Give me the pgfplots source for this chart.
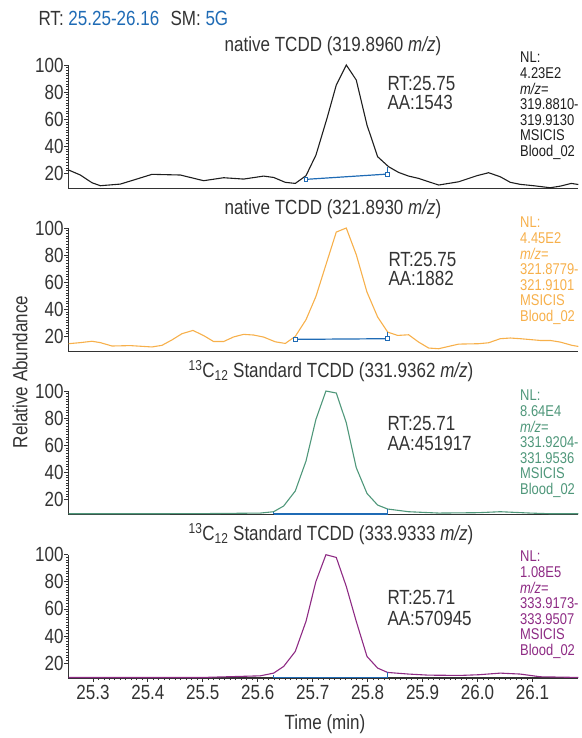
\documentclass[border=0pt]{standalone}
\usepackage{fontspec}
\setmainfont{Liberation Sans}[FakeStretch=0.83]
\usepackage{pgfplots}
\pgfplotsset{compat=1.18}
\definecolor{cBlack}{HTML}{1E1E1E}
\definecolor{cOrange}{HTML}{F7B04B}
\definecolor{cGreen}{HTML}{4F977A}
\definecolor{cPurple}{HTML}{8E2B84}
\definecolor{cBlue}{HTML}{1F6BB5}
\definecolor{cAxis}{HTML}{333333}
\newcommand\fA{\fontsize{20.5}{20.5}\selectfont}
\newcommand\fS{\fontsize{15.6}{15.6}\selectfont}
\pgfplotsset{panel/.style={
  scale only axis, width=510pt, height=123.3pt,
  xmin=25.2552, xmax=26.1834, ymin=9, ymax=100,
  axis x line*=bottom, axis y line*=left,
  axis line style={-, line width=1.2pt, cAxis},
  ytick={20,40,60,80,100}, minor y tick num=9,
  xtick=\empty,
  tick align=outside, major tick length=4pt, minor tick length=2.2pt,
  tick style={line width=0.8pt, cAxis},
  yticklabel style={font=\fA, text=cAxis, inner sep=0.5pt},
  /pgf/number format/assume math mode=true,
  clip=false,
  anchor=south west,
}}
\begin{document}
\begin{tikzpicture}[x=1pt,y=1pt]
\path[use as bounding box] (0pt,0pt) rectangle (581pt,738pt);

% Panel 1
\begin{axis}[panel, at={(68.3pt,549.7pt)}]
\addplot[cBlack, line width=1.1pt] coordinates {
(25.2558,22.5) (25.2771,18.8) (25.2983,13.1) (25.3135,10.9) (25.3499,12.1)
(25.3741,15.1) (25.4075,19.3) (25.4591,18.8) (25.5015,14.6) (25.5379,16.8)
(25.5743,15.8) (25.6107,18.0) (25.6289,17.0) (25.6501,13.4) (25.6683,12.6)
(25.6878,18.3) (25.7059,33.5) (25.7260,60.6) (25.7429,85.2) (25.7611,100.0)
(25.7793,88.9) (25.7988,55.7) (25.8182,32.3) (25.8382,24.9) (25.8564,20.7)
(25.8746,18.0) (25.8928,16.3) (25.9292,11.4) (25.9656,13.8) (25.9989,18.3)
(26.0202,20.5) (26.0414,17.5) (26.0596,13.4) (26.0778,11.9) (26.1021,10.9)
(26.1324,9.4) (26.1506,10.6) (26.1706,12.6) (26.1834,11.8)};
\addplot[cBlue, line width=1.1pt] coordinates {(25.8364,19.5) (25.8364,24.9)};
\addplot[cBlue, line width=1.2pt, mark=square*, mark size=1.9pt, mark options={draw=cBlue, fill=white, line width=0.9pt}] coordinates {(25.6878,15.6) (25.8364,19.5)};
\end{axis}

% Panel 2
\begin{axis}[panel, at={(68.3pt,386.7pt)}]
\addplot[cOrange, line width=1.1pt] coordinates {
(25.2558,14.6) (25.2771,15.4) (25.2983,16.4) (25.3135,15.4) (25.3347,12.9)
(25.3681,13.2) (25.4075,12.2) (25.4257,13.4) (25.4439,17.4) (25.4621,22.0)
(25.4821,24.4) (25.5015,20.6) (25.5197,16.2) (25.5379,16.2) (25.5561,19.6)
(25.5743,21.5) (25.5925,21.0) (25.6107,19.5) (25.6319,16.0) (25.6501,14.8)
(25.6683,20.0) (25.6878,32.3) (25.7059,49.5) (25.7241,72.9) (25.7429,97.0)
(25.7611,100.0) (25.7793,80.3) (25.7988,52.7) (25.8182,34.3) (25.8364,23.2)
(25.8546,20.7) (25.8746,21.2) (25.8928,15.8) (25.9110,11.4) (25.9292,10.9)
(25.9474,12.6) (25.9656,14.3) (26.0020,14.6) (26.0202,15.3) (26.0414,18.3)
(26.0596,18.8) (26.0778,18.3) (26.1142,17.0) (26.1324,17.0) (26.1506,15.8)
(26.1718,13.4) (26.1834,12.6)};
\addplot[cBlue, line width=1.1pt] coordinates {(25.8364,18.3) (25.8364,23.0)};
\addplot[cBlue, line width=1.2pt, mark=square*, mark size=1.9pt, mark options={draw=cBlue, fill=white, line width=0.9pt}] coordinates {(25.6683,17.8) (25.8364,18.3)};
\end{axis}

% Panel 3
\begin{axis}[panel, at={(68.3pt,223.7pt)}]
\addplot[cGreen, line width=1.1pt] coordinates {
(25.2558,9.4) (25.4000,9.4) (25.5000,9.5) (25.6046,9.9) (25.6289,10.9)
(25.6471,15.1) (25.6683,26.2) (25.6878,48.3) (25.7059,79.1) (25.7241,100.0)
(25.7429,98.5) (25.7611,76.6) (25.7793,43.4) (25.7988,24.4) (25.8182,15.8)
(25.8364,12.9) (25.8746,10.9) (25.9292,9.9) (26.0020,10.2) (26.0414,10.9)
(26.0960,9.9) (26.1324,9.4) (26.1834,9.4)};
\addplot[cBlue, line width=1.8pt] coordinates {(25.6289,9.3) (25.8364,9.3)};
\addplot[cBlue, line width=1.1pt] coordinates {(25.8364,9.3) (25.8364,12.6)};
\addplot[cBlue, line width=1.1pt] coordinates {(25.6289,9.3) (25.6289,10.8)};
\end{axis}

% Panel 4
\begin{axis}[panel, at={(68.3pt,60pt)},
  xtick={25.3,25.4,25.5,25.6,25.7,25.8,25.9,26.0,26.1}, minor x tick num=9,
  xticklabel style={font=\fA, text=cAxis, /pgf/number format/.cd, fixed, fixed zerofill, precision=1}]
\addplot[cPurple, line width=1.1pt] coordinates {
(25.2558,9.4) (25.4000,9.4) (25.5000,9.4) (25.6046,10.6) (25.6289,12.6)
(25.6471,17.5) (25.6683,28.6) (25.6878,50.8) (25.7059,80.3) (25.7241,100.0)
(25.7429,98.0) (25.7611,76.6) (25.7793,50.8) (25.7988,24.9) (25.8182,16.3)
(25.8364,13.1) (25.8746,11.9) (25.9110,11.1) (25.9686,10.9) (26.0020,11.4)
(26.0414,12.6) (26.0778,11.9) (26.1142,9.9) (26.1834,9.4)};
\addplot[cBlue, line width=1.8pt] coordinates {(25.6289,9.3) (25.8364,9.3)};
\addplot[cBlue, line width=1.1pt] coordinates {(25.8364,9.3) (25.8364,13.5)};
\addplot[cBlue, line width=1.1pt] coordinates {(25.6289,9.3) (25.6289,11.2)};
\end{axis}

% Header
\node[anchor=base west, inner sep=0, font=\fA, text=cAxis] at (38.3pt,712.3pt)
  {RT: \textcolor{cBlue}{25.25-26.16}\hspace{0.55em}SM: \textcolor{cBlue}{5G}};

% Titles
\node[anchor=base, inner sep=0, font=\fA, text=cAxis] at (333pt,686.3pt) {native TCDD (319.8960 \textit{m/z})};
\node[anchor=base, inner sep=0, font=\fA, text=cAxis] at (333pt,523.3pt) {native TCDD (321.8930 \textit{m/z})};
\node[anchor=base, inner sep=0, font=\fA, text=cAxis] at (331pt,360.3pt) {\textsuperscript{13}C\textsubscript{12} Standard TCDD (331.9362 \textit{m/z})};
\node[anchor=base, inner sep=0, font=\fA, text=cAxis] at (331pt,197.3pt) {\textsuperscript{13}C\textsubscript{12} Standard TCDD (333.9333 \textit{m/z})};

% RT / AA
\node[anchor=north west, inner sep=0, font={\fontsize{20.5}{19.2}\selectfont}, text=cAxis, align=left] at (387.3pt,662pt) {RT:25.75\\AA:1543};
\node[anchor=north west, inner sep=0, font={\fontsize{20.5}{19.2}\selectfont}, text=cAxis, align=left] at (388.3pt,486pt) {RT:25.75\\AA:1882};
\node[anchor=north west, inner sep=0, font={\fontsize{20.5}{20}\selectfont}, text=cAxis, align=left] at (387.3pt,322pt) {RT:25.71\\AA:451917};
\node[anchor=north west, inner sep=0, font={\fontsize{20.5}{21}\selectfont}, text=cAxis, align=left] at (387.3pt,147.7pt) {RT:25.71\\AA:570945};

% Side texts
\node[anchor=north west, inner sep=0, font=\fS, text=cBlack, align=left] at (520pt,686pt)
  {NL:\\4.23E2\\\textit{m/z}=\\319.8810-\\319.9130\\MSICIS\\Blood\_02};
\node[anchor=north west, inner sep=0, font=\fS, text=cOrange, align=left] at (520pt,521pt)
  {NL:\\4.45E2\\\textit{m/z}=\\321.8779-\\321.9101\\MSICIS\\Blood\_02};
\node[anchor=north west, inner sep=0, font=\fS, text=cGreen, align=left] at (520pt,348pt)
  {NL:\\8.64E4\\\textit{m/z}=\\331.9204-\\331.9536\\MSICIS\\Blood\_02};
\node[anchor=north west, inner sep=0, font=\fS, text=cPurple, align=left] at (520pt,187pt)
  {NL:\\1.08E5\\\textit{m/z}=\\333.9173-\\333.9507\\MSICIS\\Blood\_02};

% Axis labels
\node[rotate=90, inner sep=0, font=\fA, text=cAxis] at (20pt,366pt) {Relative Abundance};
\node[anchor=base, inner sep=0, font=\fA, text=cAxis] at (325pt,9pt) {Time (min)};
\end{tikzpicture}
\end{document}
